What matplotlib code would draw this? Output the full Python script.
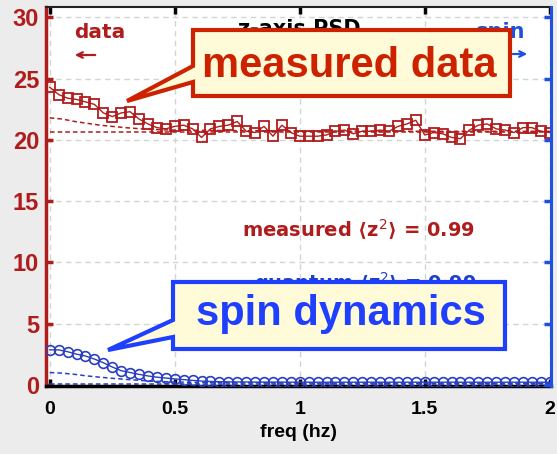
import matplotlib
matplotlib.use("Agg")
import matplotlib.pyplot as plt
from matplotlib.patches import Polygon
import numpy as np

# ---------------- data ----------------
freq = [0.0, 0.0357, 0.0714, 0.1071, 0.1429, 0.1786, 0.2143, 0.25, 0.2857, 0.3214,
        0.3571, 0.3929, 0.4286, 0.4643, 0.5, 0.5357, 0.5714, 0.6071, 0.6429, 0.6786,
        0.7143, 0.75, 0.7857, 0.8214, 0.8571, 0.8929, 0.9286, 0.9643, 1.0, 1.0357,
        1.0714, 1.1071, 1.1429, 1.1786, 1.2143, 1.25, 1.2857, 1.3214, 1.3571, 1.3929,
        1.4286, 1.4643, 1.5, 1.5357, 1.5714, 1.6071, 1.6429, 1.6786, 1.7143, 1.75,
        1.7857, 1.8214, 1.8571, 1.8929, 1.9286, 1.9643, 2.0]

measured = [24.3, 23.7, 23.4, 23.3, 23.1, 22.9, 22.2, 21.9, 22.2, 22.3,
            21.7, 21.3, 21.0, 20.9, 21.1, 21.2, 20.9, 20.2, 20.9, 21.1,
            21.2, 21.5, 20.7, 20.6, 21.1, 20.3, 21.2, 20.6, 20.3, 20.3,
            20.3, 20.4, 20.7, 20.8, 20.5, 20.7, 20.7, 20.8, 20.7, 21.1,
            21.3, 21.6, 20.4, 20.6, 20.5, 20.2, 20.1, 20.8, 21.2, 21.3,
            20.9, 20.8, 20.6, 21.0, 21.0, 20.7, 20.6]

spin = [2.85, 2.85, 2.7, 2.5, 2.35, 2.1, 1.8, 1.45, 1.15, 1.0,
        0.85, 0.72, 0.62, 0.55, 0.48, 0.42, 0.36, 0.3, 0.27, 0.25,
        0.24, 0.23, 0.23, 0.22, 0.22, 0.22, 0.22, 0.21, 0.21, 0.21,
        0.21, 0.21, 0.21, 0.21, 0.21, 0.21, 0.21, 0.21, 0.21, 0.21,
        0.21, 0.21, 0.21, 0.21, 0.21, 0.21, 0.21, 0.21, 0.21, 0.21,
        0.21, 0.21, 0.21, 0.21, 0.21, 0.21, 0.21]

fit_freq = [0.0, 0.05, 0.1, 0.15, 0.2, 0.25, 0.3, 0.4, 0.5, 0.75, 1.0, 1.5, 2.0]
meas_fit_upper = [21.8, 21.7, 21.5, 21.35, 21.2, 21.1, 21.0, 20.85, 20.8, 20.75, 20.72, 20.7, 20.7]
meas_fit_floor = [20.65] * len(fit_freq)
spin_fit_upper = [1.0, 0.95, 0.85, 0.72, 0.62, 0.53, 0.45, 0.3, 0.22, 0.17, 0.15, 0.13, 0.12]
spin_fit_floor = [0.1] * len(fit_freq)

xticks = [0, 0.5, 1, 1.5, 2]
xticklabels = ["0", "0.5", "1", "1.5", "2"]
yticks = [0, 5, 10, 15, 20, 25, 30]

# ---------------- style ----------------
RED = "#b01c1c"
RED_TXT = "#cc2200"
BLUE = "#2a3fbf"
BLUE_TXT = "#1f3fff"
BOX_FILL = "#fffad8"
W, H = 557, 454

fig = plt.figure(figsize=(W / 100, H / 100), dpi=100, facecolor="#ececec")
L, R, T, B = 46, 551, 7, 386
ax = fig.add_axes([L / W, 1 - B / H, (R - L) / W, (B - T) / H])
ax.set_facecolor("white")

ax.plot(freq, measured, color=RED, lw=1.0, marker="s", ms=6.5, mfc="none",
        mec=RED, mew=1.3, zorder=3)
ax.plot(fit_freq, meas_fit_upper, color=RED, lw=1.1, ls=(0, (3, 2)), zorder=2)
ax.plot(fit_freq, meas_fit_floor, color=RED, lw=1.1, ls=(0, (3, 2)), zorder=2)

ax.plot(freq, spin, color=BLUE, lw=1.0, marker="o", ms=7, mfc="none",
        mec=BLUE, mew=1.2, zorder=3)
ax.plot(fit_freq, spin_fit_upper, color=BLUE, lw=1.1, ls=(0, (3, 2)), zorder=2)
ax.plot(fit_freq, spin_fit_floor, color=BLUE, lw=1.1, ls=(0, (3, 2)), zorder=2)

ax.set_xlim(-0.015, 2.005)
ax.set_ylim(-0.1, 30.85)
ax.set_xticks(xticks)
ax.set_xticklabels(xticklabels)
ax.set_yticks(yticks)
ax.grid(True, color="#d4d4d4", ls=(0, (4, 3)), lw=1.0)
ax.set_axisbelow(True)

for lab in ax.get_xticklabels():
    lab.set_fontweight("bold")
    lab.set_fontsize(14)
    lab.set_family("Liberation Sans")
for lab in ax.get_yticklabels():
    lab.set_fontweight("bold")
    lab.set_fontsize(17)
    lab.set_family("Liberation Sans")
    lab.set_color(RED)

ax.tick_params(axis="x", direction="in", length=5, width=2.5, color="black",
               top=True, pad=11)
ax.tick_params(axis="y", direction="in", length=5, width=2.5, colors=RED,
               right=False, pad=5)
ax.spines["left"].set_color(RED)
ax.spines["left"].set_linewidth(2.5)
ax.spines["bottom"].set_color("black")
ax.spines["bottom"].set_linewidth(2.5)
ax.spines["top"].set_color("#222222")
ax.spines["top"].set_linewidth(1.5)
ax.spines["right"].set_visible(False)

ax2 = ax.twinx()
ax2.set_ylim(ax.get_ylim())
ax2.set_yticks(yticks)
ax2.set_yticklabels([])
ax2.tick_params(axis="y", direction="in", length=5, width=2.5, colors="#2050e0")
for s in ["left", "top", "bottom"]:
    ax2.spines[s].set_visible(False)
ax2.spines["right"].set_color("#2050e0")
ax2.spines["right"].set_linewidth(2.2)

ax.set_xlabel("freq (hz)", fontsize=14, fontweight="bold", family="Liberation Sans",
              labelpad=4)


def px(x, y):
    return ((x - L) / (R - L), (B - y) / (B - T))


fam = ["DejaVu Sans"]
ax.text(*px(100, 38), "data", transform=ax.transAxes, color=RED, fontsize=14.5,
        fontweight="bold", family=fam, ha="center", va="baseline", zorder=5)
ax.annotate("", xy=px(72, 55), xytext=px(98, 55), xycoords="axes fraction",
            textcoords="axes fraction",
            arrowprops=dict(arrowstyle="->", color=RED, lw=1.6), zorder=5)
ax.text(*px(501, 38), "spin", transform=ax.transAxes, color="#2050e0", fontsize=15,
        fontweight="bold", family=fam, ha="center", va="baseline", zorder=5)
ax.annotate("", xy=px(530, 54), xytext=px(510, 54), xycoords="axes fraction",
            textcoords="axes fraction",
            arrowprops=dict(arrowstyle="->", color="#2050e0", lw=1.6), zorder=5)
ax.text(*px(299, 35), "z-axis PSD", transform=ax.transAxes, color="black", fontsize=15,
        fontweight="bold", family=fam, ha="center", va="baseline", zorder=5)

ax.text(*px(359, 237), "measured \u27e8z$^2$\u27e9 = 0.99", transform=ax.transAxes,
        color=RED, fontsize=14, fontweight="bold", family=fam, ha="center",
        va="baseline", zorder=5)
ax.text(*px(365, 290), "quantum \u27e8z$^2$\u27e9 = 0.99", transform=ax.transAxes,
        color="#1a40d0", fontsize=14, fontweight="bold", family=fam, ha="center",
        va="baseline", zorder=5)


def callout(box, base, tip, edge):
    x0, y0, x1, y1 = box
    pts = [(x0, y0), (x1, y0), (x1, y1), (x0, y1), (x0, base[1]), tip, (x0, base[0])]
    poly = Polygon([px(*p) for p in pts], closed=True, transform=ax.transAxes,
                   facecolor=BOX_FILL, edgecolor=edge, lw=3, zorder=8,
                   clip_on=False, joinstyle="miter")
    ax.add_patch(poly)


callout((193, 30, 510, 96), (66, 82), (127, 101), "#cc2200")
ax.text(*px(349, 77), "measured data", transform=ax.transAxes, color=RED_TXT,
        fontsize=30, fontweight="bold", family="Liberation Sans", ha="center",
        va="baseline", zorder=9)

callout((173, 282, 505, 349), (320, 337), (108, 350), BLUE_TXT)
ax.text(*px(341, 325), "spin dynamics", transform=ax.transAxes, color=BLUE_TXT,
        fontsize=30, fontweight="bold", family="Liberation Sans", ha="center",
        va="baseline", zorder=9)

fig.savefig("out.png", dpi=100, facecolor=fig.get_facecolor())
